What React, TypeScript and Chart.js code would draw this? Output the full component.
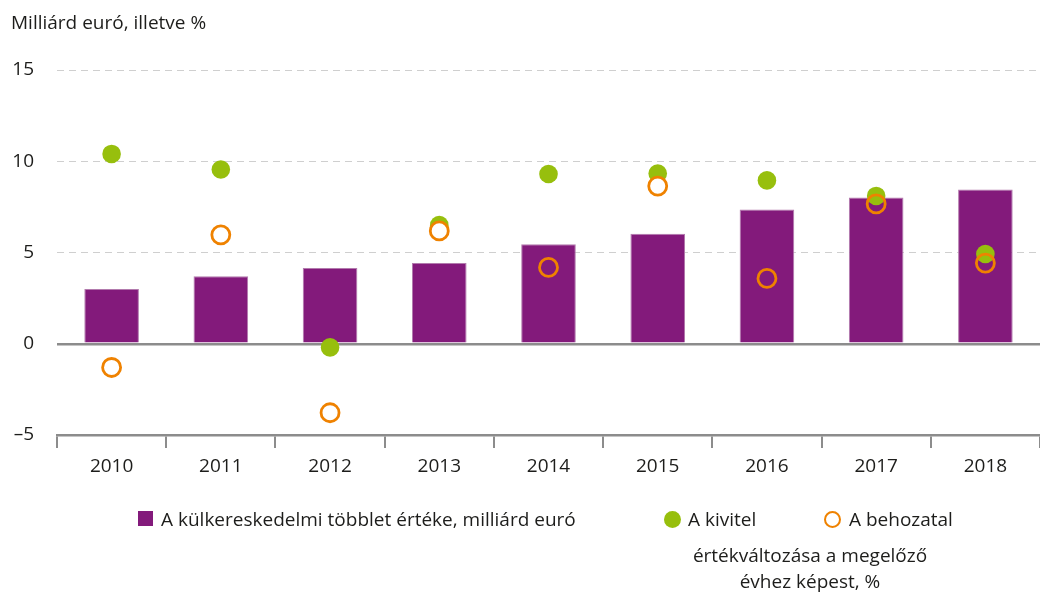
import React, { useEffect, useRef } from "react";
import { Chart, registerables } from "chart.js";

Chart.register(...registerables);

// ---- data ----
const years = ["2010", "2011", "2012", "2013", "2014", "2015", "2016", "2017", "2018"];
const surplus = [3.0, 3.7, 4.15, 4.42, 5.45, 6.03, 7.36, 8.02, 8.45];
const exportChange = [10.4, 9.55, -0.2, 6.5, 9.3, 9.33, 8.95, 8.1, 4.92];
const importChange = [-1.3, 5.97, -3.78, 6.18, 4.18, 8.64, 3.58, 7.66, 4.42];
const yTicks = [-5, 0, 5, 10, 15];

const yTitle = "Milliárd euró, illetve %";
const surplusLabel = "A külkereskedelmi többlet értéke, milliárd euró";
const exportLabel = "A kivitel";
const importLabel = "A behozatal";
const captionLines = ["értékváltozása a megelőző", "évhez képest, %"];

const PURPLE = "#831a7b";
const GREEN = "#97bf0d";
const ORANGE = "#ef8200";
const AXIS = "#8c8c8c";
const GRID = "#cfcfcf";
const TEXT = "#1d1d1b";
const FONT = "'Open Sans', 'Noto Sans', sans-serif";

export default function App() {
  const ref = useRef<HTMLCanvasElement | null>(null);

  useEffect(() => {
    if (!ref.current) return;
    const chart = new Chart(ref.current, {
      type: "bar",
      data: {
        labels: years,
        datasets: [
          {
            type: "line",
            label: importLabel,
            data: importChange,
            showLine: false,
            order: 1,
            clip: false,
            pointStyle: "circle",
            pointRadius: 9,
            pointHoverRadius: 9,
            pointBorderWidth: 2.8,
            pointBorderColor: ORANGE,
            pointBackgroundColor: (ctx: any) => {
              const i = ctx.dataIndex;
              const v = importChange[i];
              const b = surplus[i];
              return v > b || v < 0 ? "#ffffff" : "rgba(0,0,0,0)";
            },
          } as any,
          {
            type: "line",
            label: exportLabel,
            data: exportChange,
            showLine: false,
            order: 2,
            clip: false,
            pointStyle: "circle",
            pointRadius: 9.3,
            pointHoverRadius: 9.3,
            pointBorderWidth: 0,
            pointBackgroundColor: GREEN,
            pointBorderColor: GREEN,
          } as any,
          {
            type: "bar",
            label: surplusLabel,
            data: surplus,
            order: 3,
            backgroundColor: PURPLE,
            borderColor: "#b27aad",
            borderWidth: { top: 1, left: 1, right: 1, bottom: 0 },
            borderSkipped: "bottom",
            barPercentage: 0.5,
            categoryPercentage: 1.0,
          } as any,
        ],
      },
      options: {
        responsive: false,
        animation: false,
        layout: { autoPadding: false, padding: { top: 70, right: 0, bottom: 118, left: 0 } },
        plugins: {
          legend: { display: false },
          tooltip: { enabled: false },
          title: { display: false },
        },
        scales: {
          x: {
            offset: true,
            afterFit: (s: any) => {
              s.height = 40;
              s.paddingLeft = 0;
              s.paddingRight = 0;
            },
            grid: {
              offset: true,
              drawOnChartArea: false,
              drawTicks: true,
              tickLength: 13,
              color: AXIS,
              lineWidth: 2,
            },
            border: { display: true, color: AXIS, width: 2.5 },
            ticks: {
              color: TEXT,
              font: { family: FONT, size: 19 },
              padding: 7,
              maxRotation: 0,
            },
          },
          y: {
            min: -5,
            max: 15,
            afterFit: (s: any) => {
              s.width = 57;
            },
            afterBuildTicks: (s: any) => {
              s.ticks = yTicks.map((v) => ({ value: v }));
            },
            grid: {
              drawTicks: false,
              color: (ctx: any) => {
                const v = ctx.tick ? ctx.tick.value : null;
                if (v === 0) return AXIS;
                if (v === -5) return "rgba(0,0,0,0)";
                return GRID;
              },
              lineWidth: (ctx: any) => (ctx.tick && ctx.tick.value === 0 ? 2.5 : 1),
            },
            border: {
              display: false,
              dash: (ctx: any) => (ctx.tick && ctx.tick.value === 0 ? [] : [7, 5]),
            },
            ticks: {
              color: TEXT,
              font: { family: FONT, size: 19 },
              padding: 23,
              callback: (v: any) => (Number(v) < 0 ? "\u2013" + Math.abs(Number(v)) : String(v)),
            },
          },
        },
      } as any,
    });
    return () => chart.destroy();
  }, []);

  const textStyle: React.CSSProperties = {
    position: "absolute",
    fontFamily: FONT,
    fontSize: 19,
    lineHeight: "24px",
    color: TEXT,
    whiteSpace: "nowrap",
  };

  return (
    <div style={{ position: "absolute", left: 0, top: 0, width: 1040, height: 593, background: "#fff" }}>
      <canvas ref={ref} width={1040} height={593} style={{ position: "absolute", left: 0, top: 0 }} />
      <div style={{ ...textStyle, left: 11, top: 10 }}>{yTitle}</div>
      <div style={{ position: "absolute", left: 138, top: 511, width: 15, height: 15, background: PURPLE }} />
      <div style={{ ...textStyle, left: 161, top: 507 }}>{surplusLabel}</div>
      <div style={{ position: "absolute", left: 664, top: 511, width: 17, height: 17, borderRadius: "50%", background: GREEN }} />
      <div style={{ ...textStyle, left: 688, top: 507 }}>{exportLabel}</div>
      <div
        style={{
          position: "absolute",
          left: 824,
          top: 511,
          width: 17,
          height: 17,
          borderRadius: "50%",
          border: `2.5px solid ${ORANGE}`,
          boxSizing: "border-box",
        }}
      />
      <div style={{ ...textStyle, left: 849, top: 507 }}>{importLabel}</div>
      <div style={{ ...textStyle, left: 690, top: 542, width: 240, textAlign: "center", lineHeight: "26px" }}>
        {captionLines.map((l) => (
          <div key={l}>{l}</div>
        ))}
      </div>
    </div>
  );
}
